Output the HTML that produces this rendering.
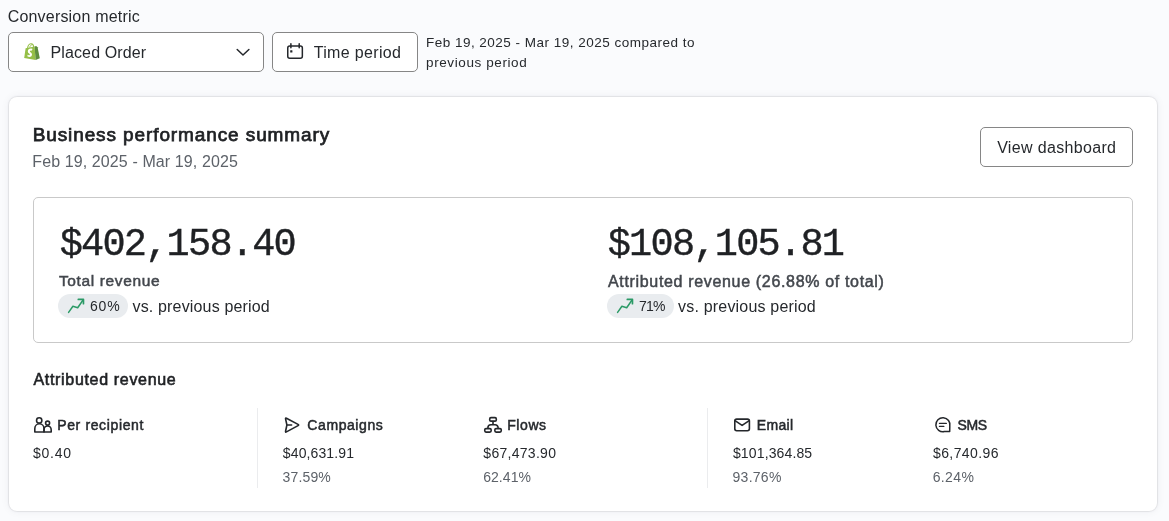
<!DOCTYPE html>
<html lang="en">
<head>
<meta charset="utf-8">
<title>Business performance summary</title>
<style>
html,body{margin:0;padding:0;}
body{width:1169px;height:521px;overflow:hidden;background:#fafbfd;position:relative;font-family:"Liberation Sans",sans-serif;}
.t{position:absolute;white-space:nowrap;line-height:1;font-family:"Liberation Sans",sans-serif;}
.abs{position:absolute;box-sizing:border-box;}
.btn{background:#fff;border:1px solid #868686;border-radius:5px;}
.card{left:9px;top:97px;width:1148px;height:414px;background:#fff;border-radius:8px;box-shadow:0 0 0 1px rgba(0,0,0,0.045),0 0 3px rgba(0,0,0,0.08),0 0 10px rgba(10,20,60,0.06);}
.inner{left:33px;top:197px;width:1100px;height:146px;border:1px solid #c9c9c9;border-radius:5px;}
.pill{background:#e9ecef;border-radius:12px;height:24px;top:294px;}
.vline{width:1px;background:#ebecee;top:408px;height:80px;}
svg{position:absolute;overflow:visible;}
</style>
</head>
<body>
<div class="abs btn" style="left:8px;top:32px;width:256px;height:40px;"></div>
<div class="abs btn" style="left:272px;top:32px;width:146px;height:40px;"></div>
<div class="abs card"></div>
<div class="abs btn" style="left:980px;top:127px;width:153px;height:40px;"></div>
<div class="abs inner"></div>
<div class="abs pill" style="left:58px;width:69.5px;"></div>
<div class="abs pill" style="left:607px;width:67px;"></div>
<div class="abs vline" style="left:257px;"></div>
<div class="abs vline" style="left:707px;"></div>

<!-- shopify bag -->
<svg style="left:24px;top:43px" width="16" height="17" viewBox="0 0 16 17">
<path d="M1.6 5.2 L10.6 3.4 L11.6 16.9 L0.2 14.9 Z" fill="#95bf47"/>
<path d="M10.6 3.4 L12.2 2.9 L13.6 4.3 L15.8 15.3 L11.6 16.9 Z" fill="#5e8e3e"/>
<path d="M3.6 5 C3.9 2.6 5.6 0.6 7.2 0.7 C8.8 0.8 9.6 2.4 9.7 4" fill="none" stroke="#95bf47" stroke-width="1.1"/>
<path d="M5.7 4.6 C6 2.8 7.2 1.6 8.2 1.8" fill="none" stroke="#95bf47" stroke-width="0.9"/>
<path d="M8.4 5.9 L7.9 7.8 C7.2 7.5 6.1 7.5 5.9 8.2 C5.7 9.2 8 9.4 8 11.4 C8 13.1 6.7 13.9 5.3 13.9 C4.1 13.9 3.3 13.2 3.3 13.2 L3.7 11.7 C3.700 11.700 4.600 12.400 5.300 12.300 C5.800 12.200 5.900 11.900 5.900 11.600 C5.900 10.400 3.800 10.300 3.800 8.400 C3.800 6.700 5.000 5.500 7.000 5.500 C7.900 5.500 8.400 5.900 8.400 5.900 Z" fill="#fff"/>
</svg>
<!-- chevron -->
<svg style="left:228px;top:38px" width="34" height="28" viewBox="228 38 34 28"><path d="M237.2 49.5 L243 55 L248.9 49.5" fill="none" stroke="#24272b" stroke-width="1.5" stroke-linecap="round" stroke-linejoin="round"/></svg>
<!-- calendar -->
<svg style="left:285px;top:42px" width="20" height="20" viewBox="0 0 20 20" fill="none" stroke="#24272b" stroke-width="1.5" stroke-linecap="round" stroke-linejoin="round">
<rect x="2.75" y="4" width="14.6" height="12.3" rx="2"/>
<path d="M5.9 1.7 V5.8 M14.2 1.7 V5.8"/>
<rect x="5.2" y="8.3" width="2.2" height="2.2" rx="0.3" fill="#24272b" stroke="none"/>
</svg>
<!-- trend arrows -->
<svg style="left:60px;top:292px" width="30" height="28" viewBox="60 292 30 28" fill="none" stroke="#2b9a66" stroke-width="1.5" stroke-linecap="round" stroke-linejoin="round"><path d="M68.6 312.4 L72.9 306.3 L77.7 307.7 L83.2 299.8"/><path d="M78.300 299.450 H83.450 V303.700" stroke-width="1.7"/></svg>
<svg style="left:609px;top:292px" width="30" height="28" viewBox="60 292 30 28" fill="none" stroke="#2b9a66" stroke-width="1.5" stroke-linecap="round" stroke-linejoin="round"><path d="M68.6 312.4 L72.9 306.3 L77.7 307.7 L83.2 299.8"/><path d="M78.300 299.450 H83.450 V303.700" stroke-width="1.7"/></svg>
<!-- people -->
<svg style="left:28px;top:410px" width="34" height="30" viewBox="28 410 34 30" fill="none" stroke="#24272b" stroke-width="1.6" stroke-linejoin="round">
<circle cx="39.2" cy="420.4" r="2.65"/>
<path d="M34.800 432 V428.700 a4.600 4.900 0 0 1 9.200 0 V432 Z"/>
<circle cx="47.6" cy="423.1" r="2"/>
<path d="M44 432 V429.900 a3.600 3.900 0 0 1 7.200 0 V432 Z"/>
</svg>
<!-- send -->
<svg style="left:278px;top:410px" width="34" height="30" viewBox="278 410 34 30" fill="none" stroke="#24272b" stroke-width="1.6" stroke-linejoin="round" stroke-linecap="round">
<path d="M286.900 425 L285.570 418.870 Q285.300 417.600 286.450 418.210 L298.050 424.390 Q299.200 425 298.060 425.620 L286.440 431.880 Q285.300 432.500 285.570 431.230 Z M286.900 425 H291.600"/>
</svg>
<!-- flows -->
<svg style="left:478px;top:410px" width="34" height="30" viewBox="478 410 34 30" fill="none" stroke="#24272b" stroke-width="1.6" stroke-linejoin="round" stroke-linecap="round">
<rect x="489.700" y="417.650" width="6.600" height="3.500" rx="1.250"/>
<rect x="484.750" y="428.600" width="6.400" height="3.500" rx="1.250"/>
<rect x="494.850" y="428.600" width="6.400" height="3.500" rx="1.250"/>
<path d="M493 421.500 V424.700 M487.900 428.300 V427.700 a3 3 0 0 1 3 -3 h4.200 a3 3 0 0 1 3 3 V428.300"/>
</svg>
<!-- email -->
<svg style="left:728px;top:410px" width="34" height="30" viewBox="728 410 34 30" fill="none" stroke="#24272b" stroke-width="1.6" stroke-linejoin="round" stroke-linecap="round">
<rect x="734.800" y="419.100" width="14.600" height="11.600" rx="1.900"/>
<path d="M735 420.600 L742.100 425.400 L749.200 420.600"/>
</svg>
<!-- sms -->
<svg style="left:928px;top:410px" width="34" height="30" viewBox="928 410 34 30" fill="none" stroke="#24272b" stroke-width="1.5" stroke-linejoin="round" stroke-linecap="round">
<path d="M949.80 426.17 L949.7 431.5 L944.37 431.60 A7.05 7.05 0 1 1 949.80 426.17 Z"/>
<path d="M939.500 423.400 H946.300 M939.500 426.400 H943.800" stroke-width="1.400"/>
</svg>

<div id="txt" style="position:absolute;left:0;top:0;width:1169px;height:521px;will-change:transform;">
<div class="t" id="t0" style="left:7.63px;top:9.31px;font-size:16px;color:#26292d;letter-spacing:0.202px;">Conversion metric</div>
<div class="t" id="t1" style="left:50.48px;top:44.67px;font-size:16px;color:#26292d;letter-spacing:0.131px;">Placed Order</div>
<div class="t" id="t2" style="left:313.64px;top:44.81px;font-size:16px;color:#26292d;letter-spacing:0.349px;">Time period</div>
<div class="t" id="t3" style="left:425.91px;top:36.24px;font-size:13.5px;color:#26292d;letter-spacing:0.492px;">Feb 19, 2025 - Mar 19, 2025 compared to</div>
<div class="t" id="t4" style="left:426.05px;top:56.24px;font-size:13.5px;color:#26292d;letter-spacing:0.598px;">previous period</div>
<div class="t" id="t5" style="left:32.66px;top:125.32px;font-size:19px;color:#1f2124;-webkit-text-stroke:0.75px #1f2124;letter-spacing:0.894px;">Business performance summary</div>
<div class="t" id="t6" style="left:32.30px;top:153.86px;font-size:16px;color:#5d6269;letter-spacing:0.105px;">Feb 19, 2025 - Mar 19, 2025</div>
<div class="t" id="t7" style="left:997.15px;top:140.09px;font-size:16px;color:#26292d;letter-spacing:0.338px;">View dashboard</div>
<div class="t" id="t8" style="left:59.70px;top:226.23px;font-size:38.6px;color:#1f2124;letter-spacing:-1.765px;font-family:'Liberation Mono',monospace;-webkit-text-stroke:0.4px #1f2124;">$402,158.40</div>
<div class="t" id="t9" style="left:607.70px;top:226.23px;font-size:38.6px;color:#1f2124;letter-spacing:-1.732px;font-family:'Liberation Mono',monospace;-webkit-text-stroke:0.4px #1f2124;">$108,105.81</div>
<div class="t" id="t10" style="left:58.93px;top:272.50px;font-size:15.5px;color:#43474d;-webkit-text-stroke:0.5px #43474d;letter-spacing:0.638px;">Total revenue</div>
<div class="t" id="t11" style="left:608.04px;top:273.88px;font-size:16px;color:#43474d;-webkit-text-stroke:0.5px #43474d;letter-spacing:0.665px;">Attributed revenue (26.88% of total)</div>
<div class="t" id="t12" style="left:89.91px;top:298.81px;font-size:14px;color:#26292d;letter-spacing:0.848px;">60%</div>
<div class="t" id="t13" style="left:132.52px;top:298.87px;font-size:16px;color:#26292d;letter-spacing:0.159px;">vs. previous period</div>
<div class="t" id="t14" style="left:639.10px;top:298.81px;font-size:14px;color:#26292d;letter-spacing:-0.817px;">71%</div>
<div class="t" id="t15" style="left:678.12px;top:298.69px;font-size:16px;color:#26292d;letter-spacing:0.186px;">vs. previous period</div>
<div class="t" id="t16" style="left:33.49px;top:371.62px;font-size:16px;color:#1f2124;-webkit-text-stroke:0.6px #1f2124;letter-spacing:0.676px;">Attributed revenue</div>
<div class="t" id="t17" style="left:57.19px;top:418.39px;font-size:14px;color:#26292d;-webkit-text-stroke:0.5px #26292d;letter-spacing:0.634px;">Per recipient</div>
<div class="t" id="t18" style="left:32.95px;top:445.79px;font-size:14px;color:#26292d;letter-spacing:0.796px;">$0.40</div>
<div class="t" id="t19" style="left:307.36px;top:418.37px;font-size:14px;color:#26292d;-webkit-text-stroke:0.5px #26292d;letter-spacing:0.575px;">Campaigns</div>
<div class="t" id="t20" style="left:282.87px;top:445.79px;font-size:14px;color:#26292d;letter-spacing:0.115px;">$40,631.91</div>
<div class="t" id="t21" style="left:282.47px;top:470.18px;font-size:14px;color:#5d6269;letter-spacing:0.172px;">37.59%</div>
<div class="t" id="t22" style="left:507.16px;top:418.39px;font-size:14px;color:#26292d;-webkit-text-stroke:0.5px #26292d;letter-spacing:0.592px;">Flows</div>
<div class="t" id="t23" style="left:483.33px;top:445.78px;font-size:14px;color:#26292d;letter-spacing:0.281px;">$67,473.90</div>
<div class="t" id="t24" style="left:483.13px;top:470.18px;font-size:14px;color:#5d6269;letter-spacing:0.071px;">62.41%</div>
<div class="t" id="t25" style="left:756.79px;top:418.44px;font-size:14px;color:#26292d;-webkit-text-stroke:0.5px #26292d;letter-spacing:0.352px;">Email</div>
<div class="t" id="t26" style="left:732.95px;top:445.79px;font-size:14px;color:#26292d;letter-spacing:0.136px;">$101,364.85</div>
<div class="t" id="t27" style="left:732.53px;top:470.18px;font-size:14px;color:#5d6269;letter-spacing:0.271px;">93.76%</div>
<div class="t" id="t28" style="left:957.47px;top:418.35px;font-size:14px;color:#26292d;-webkit-text-stroke:0.5px #26292d;letter-spacing:-0.304px;">SMS</div>
<div class="t" id="t29" style="left:933.01px;top:445.78px;font-size:14px;color:#26292d;letter-spacing:0.399px;">$6,740.96</div>
<div class="t" id="t30" style="left:932.68px;top:470.20px;font-size:14px;color:#5d6269;letter-spacing:0.367px;">6.24%</div>
</div>
</body>
</html>
